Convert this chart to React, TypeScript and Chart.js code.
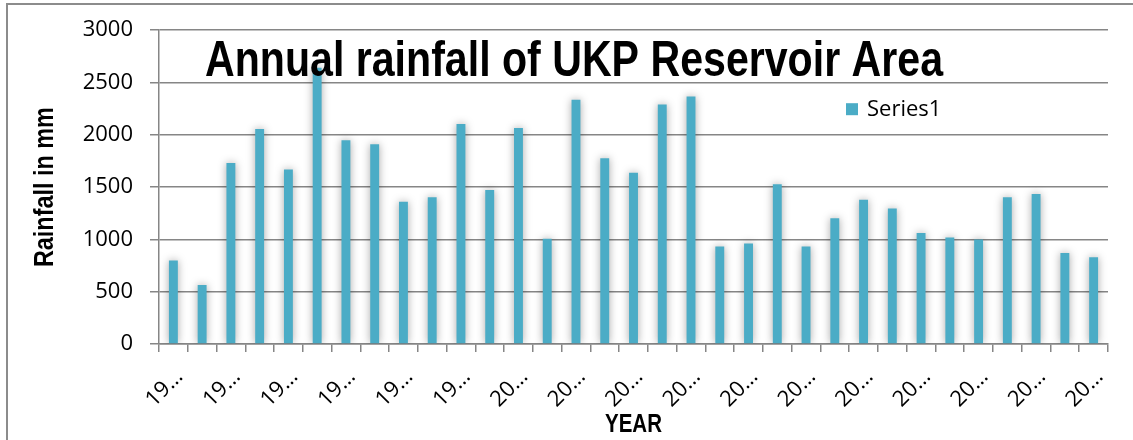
import React, { useEffect, useRef } from "react";
import { Chart, registerables } from "chart.js";

Chart.register(...registerables);

const years: string[] = [
  "1988", "1989", "1990", "1991", "1992", "1993", "1994", "1995", "1996", "1997", "1998",
  "1999", "2000", "2001", "2002", "2003", "2004", "2005", "2006", "2007", "2008", "2009",
  "2010", "2011", "2012", "2013", "2014", "2015", "2016", "2017", "2018", "2019", "2020",
];
const rainfall: number[] = [
  798, 565, 1730, 2056, 1668, 2640, 1947, 1910, 1360, 1404, 2103,
  1472, 2065, 1006, 2336, 1777, 1637, 2289, 2367, 932, 960, 1528,
  932, 1202, 1379, 1295, 1062, 1019, 1000, 1404, 1435, 869, 829,
];
const seriesName = "Series1";
const chartTitle = "Annual rainfall of UKP Reservoir Area";
const yTitle = "Rainfall in mm";
const xTitle = "YEAR";
const yTicks: number[] = [0, 500, 1000, 1500, 2000, 2500, 3000];

const BAR = "#4BACC6";
const GRID = "#868686";
const NARROW = '"Liberation Sans Narrow", "Arial Narrow", "Liberation Sans", Arial, sans-serif';
const BODY = '"Open Sans", "DejaVu Sans", sans-serif';

const overlayPlugin = {
  id: "overlay",
  beforeDatasetsDraw(chart: any) {
    const ctx = chart.ctx;
    ctx.save();
    ctx.shadowColor = "rgba(0,0,0,0.35)";
    ctx.shadowBlur = 8;
    ctx.shadowOffsetX = 0;
    ctx.shadowOffsetY = 0;
  },
  afterDatasetsDraw(chart: any) {
    chart.ctx.restore();
  },
  afterDraw(chart: any) {
    const ctx = chart.ctx;
    const a = chart.chartArea;
    ctx.save();
    ctx.fillStyle = "#000";
    ctx.font = `bold 50px ${NARROW}`;
    ctx.textAlign = "left";
    ctx.textBaseline = "alphabetic";
    ctx.fillText(chartTitle, a.left + 46, a.top + 46, 738);
    ctx.fillStyle = BAR;
    ctx.fillRect(a.right - 262, a.top + 73, 12, 12);
    ctx.fillStyle = "#000";
    ctx.font = `22px ${BODY}`;
    ctx.fillText(seriesName, a.right - 241, a.top + 86);
    ctx.font = `bold 25px ${NARROW}`;
    ctx.textAlign = "center";
    ctx.fillText(xTitle, (a.left + a.right) / 2, chart.height - 8, 57);
    ctx.translate(53, (a.top + a.bottom) / 2);
    ctx.rotate(-Math.PI / 2);
    ctx.font = `bold 28px ${NARROW}`;
    ctx.fillText(yTitle, 0, 0, 160);
    ctx.restore();
  },
};

export default function App() {
  const ref = useRef<HTMLCanvasElement | null>(null);
  useEffect(() => {
    if (!ref.current) return;
    const chart = new Chart(ref.current, {
      type: "bar",
      data: {
        labels: years,
        datasets: [
          {
            label: seriesName,
            data: rainfall,
            backgroundColor: BAR,
            categoryPercentage: 1,
            barPercentage: 0.31,
          },
        ],
      },
      options: {
        animation: false,
        responsive: false,
        devicePixelRatio: 1,
        layout: { padding: { top: 22, right: 25, left: 0, bottom: 0 } },
        plugins: {
          legend: { display: false },
          title: { display: false },
          tooltip: { enabled: false },
        },
        scales: {
          x: {
            afterFit: (s: any) => {
              s.height = 96;
            },
            grid: {
              display: true,
              drawOnChartArea: false,
              color: GRID,
              lineWidth: 1.5,
              tickLength: 8,
            },
            border: { display: true, color: GRID, width: 1.5 },
            ticks: {
              autoSkip: false,
              maxRotation: 45,
              minRotation: 45,
              padding: 12,
              labelOffset: 6,
              color: "#000",
              font: { family: BODY, size: 22 },
              callback: (_v: any, i: number) => (i % 2 === 0 ? years[i].slice(0, 2) + "…" : ""),
            },
          },
          y: {
            min: 0,
            max: 3000,
            afterFit: (s: any) => {
              s.width = 159;
            },
            afterBuildTicks: (s: any) => {
              s.ticks = yTicks.map((v) => ({ value: v }));
            },
            grid: { color: GRID, lineWidth: 1.5, tickLength: 9 },
            border: { display: true, color: GRID, width: 1.5 },
            ticks: {
              padding: 17,
              color: "#000",
              font: { family: BODY, size: 22 },
              callback: (v: any) => String(v),
            },
          },
        },
      },
      plugins: [overlayPlugin],
    });
    return () => chart.destroy();
  }, []);
  return (
    <div style={{ position: "absolute", left: 0, top: 0, width: 1133, height: 440, overflow: "hidden", background: "#fff" }}>
      <canvas ref={ref} width={1133} height={440} style={{ position: "absolute", left: 0, top: 0 }} />
      <div
        style={{
          position: "absolute",
          left: 6,
          top: 3,
          width: 1200,
          height: 500,
          borderLeft: "2px solid #8c8c8c",
          borderTop: "2px solid #8c8c8c",
          pointerEvents: "none",
        }}
      />
    </div>
  );
}
